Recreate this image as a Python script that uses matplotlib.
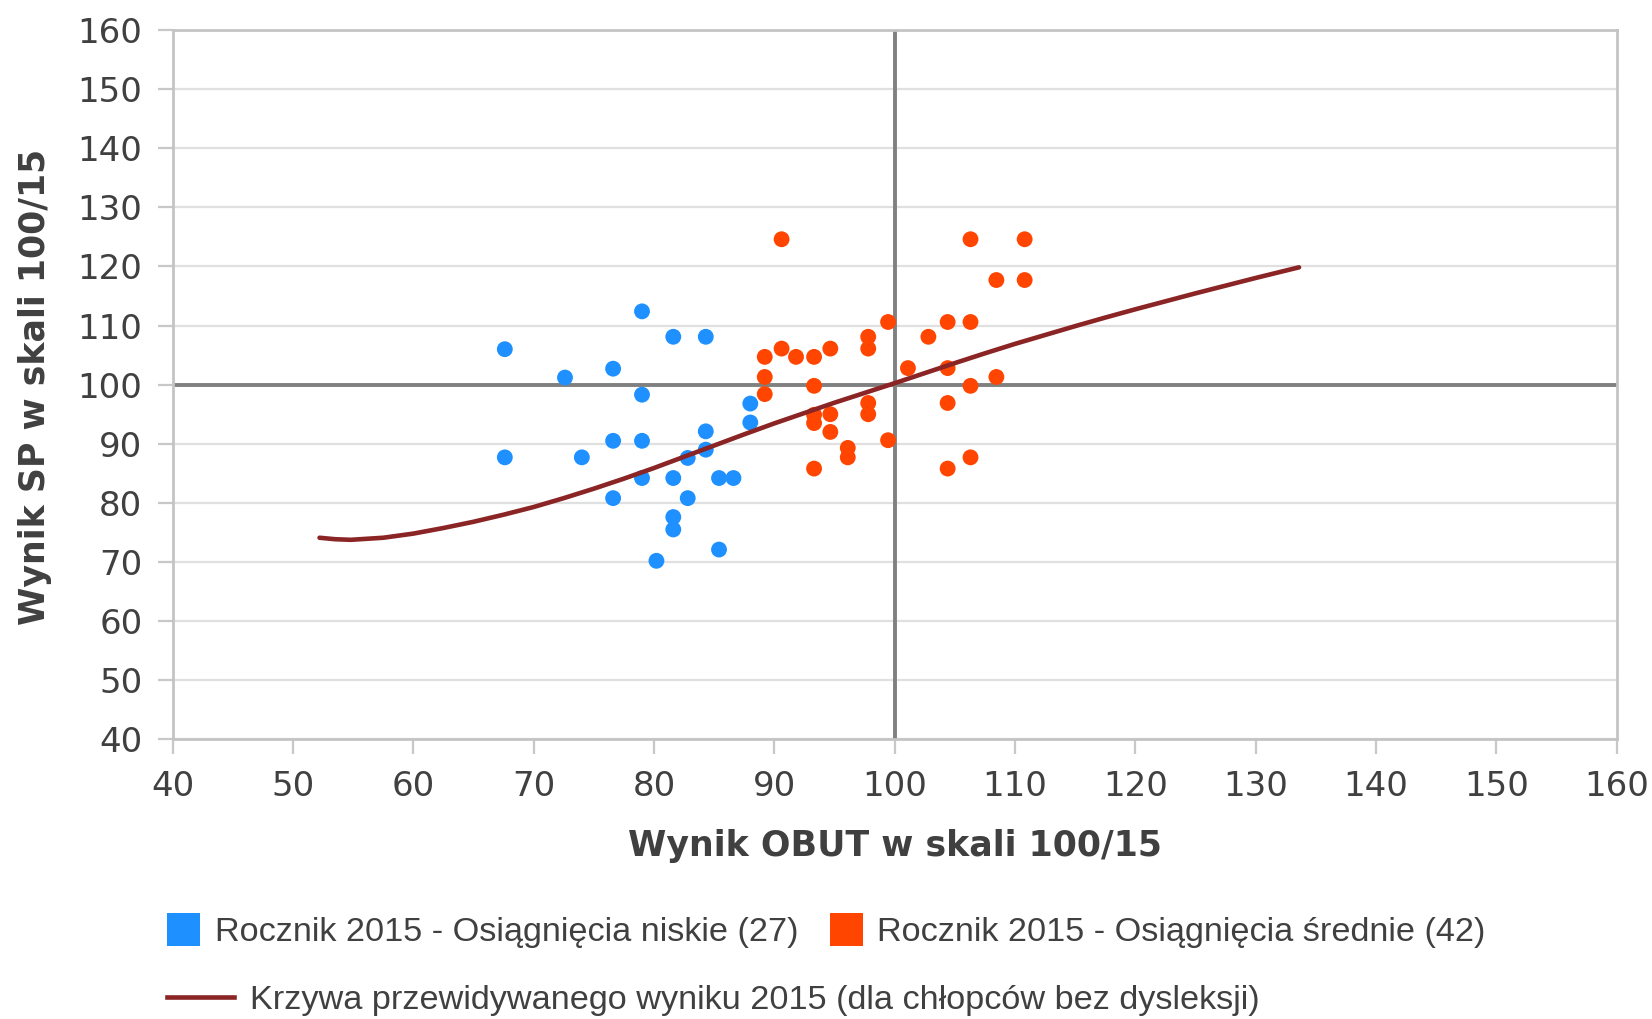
import matplotlib
matplotlib.use("Agg")
import matplotlib.pyplot as plt
from matplotlib.patches import Rectangle
from matplotlib.lines import Line2D

# ---- data ----
low_x = [67.6, 67.6, 72.6, 74.0, 76.6, 76.6, 76.6, 79.0, 79.0, 79.0, 79.0, 80.2, 81.6,
         81.6, 81.6, 81.6, 82.8, 82.8, 84.3, 84.3, 84.3, 85.4, 85.4, 86.6, 88.0, 88.0]
low_y = [106.0, 87.7, 101.2, 87.7, 102.7, 90.5, 80.8, 112.4, 98.3, 90.5, 84.2, 70.2, 108.1,
         84.2, 77.6, 75.5, 87.6, 80.8, 108.1, 92.1, 89.0, 84.2, 72.1, 84.2, 96.8, 93.6]

mid_x = [89.2, 89.2, 89.2, 90.6, 90.6, 91.8, 93.3, 93.3, 93.3, 93.3, 93.3, 94.65, 94.65,
         94.65, 96.1, 96.1, 97.8, 97.8, 97.8, 97.8, 99.45, 99.45, 101.1, 102.8, 104.4,
         104.4, 104.4, 104.4, 106.3, 106.3, 106.3, 106.3, 108.45, 108.45, 110.8, 110.8]
mid_y = [104.7, 101.3, 98.4, 124.6, 106.1, 104.7, 104.7, 99.8, 94.9, 93.5, 85.8, 106.1, 95.0,
         92.0, 89.3, 87.7, 108.1, 106.1, 96.9, 95.0, 110.6, 90.6, 102.8, 108.1, 110.6,
         102.8, 96.9, 85.8, 124.6, 110.6, 99.8, 87.7, 117.7, 101.3, 124.6, 117.7]

curve_x = [52.2, 53.5, 54.8, 57.5, 60.0, 62.5, 65.0, 67.5, 70.0, 72.5, 75.0, 77.5, 80.0,
           82.5, 85.0, 87.5, 90.0, 92.5, 95.0, 97.5, 100.0, 102.5, 105.0, 107.5, 110.0,
           112.5, 115.0, 117.5, 120.0, 122.5, 125.0, 127.5, 130.0, 133.6]
curve_y = [74.1, 73.85, 73.75, 74.1, 74.8, 75.75, 76.8, 78.0, 79.3, 80.8, 82.4, 84.1, 85.9,
           87.8, 89.7, 91.6, 93.45, 95.2, 96.95, 98.6, 100.25, 101.95, 103.65, 105.3, 106.9,
           108.4, 109.9, 111.35, 112.75, 114.1, 115.45, 116.75, 118.05, 119.85]

ticks = list(range(40, 161, 10))
xlabel = "Wynik OBUT w skali 100/15"
ylabel = "Wynik SP w skali 100/15"
leg_low = "Rocznik 2015 - Osiągnięcia niskie (27)"
leg_mid = "Rocznik 2015 - Osiągnięcia średnie (42)"
leg_curve = "Krzywa przewidywanego wyniku 2015 (dla chłopców bez dysleksji)"

BLUE = "#1E90FF"
ORANGE = "#FF4500"
CURVE = "#8B2525"
TXT = "#404040"

W, H = 1652, 1019
fig = plt.figure(figsize=(W / 100, H / 100), dpi=100)
ax = fig.add_axes([172.7 / W, 1 - 739.3 / H, (1616.7 - 172.7) / W, (739.3 - 30) / H])

ax.set_xlim(40, 160)
ax.set_ylim(40, 160)
ax.set_xticks(ticks)
ax.set_yticks(ticks)

ax.yaxis.grid(True, color="#e0e0e0", linewidth=1.6, zorder=0)
ax.xaxis.grid(False)
ax.set_axisbelow(True)

for s in ax.spines.values():
    s.set_color("#c4c4c4")
    s.set_linewidth(2.0)

ax.tick_params(axis="both", which="major", length=10.5, width=1.6, color="#c8c8c8",
               labelsize=24.5, labelcolor=TXT, pad=11.3)
for lbl in ax.get_xticklabels() + ax.get_yticklabels():
    lbl.set_family("DejaVu Sans")

ax.axhline(100, color="#808080", linewidth=2.8, zorder=1)
ax.axvline(100, color="#808080", linewidth=2.8, zorder=1)

ax.scatter(low_x, low_y, s=130, color=BLUE, edgecolors="none", zorder=3)
ax.scatter(mid_x, mid_y, s=130, color=ORANGE, edgecolors="none", zorder=3)
ax.plot(curve_x, curve_y, color=CURVE, linewidth=3.3, solid_capstyle="round",
        solid_joinstyle="round", zorder=4)

ax.set_xlabel(xlabel, fontsize=25, fontweight="bold", color=TXT, family="DejaVu Sans")
ax.set_ylabel(ylabel, fontsize=25, fontweight="bold", color=TXT, family="DejaVu Sans")
ax.xaxis.set_label_coords(0.5, (739.3 - 846) / 709.3)
ax.xaxis.label.set_va("center")
ax.yaxis.set_label_coords((35 - 172.7) / 1444, (739.3 - 387) / 709.3)
ax.yaxis.label.set_va("center")

# ---- legend (manual) ----
def fx(px):
    return px / W

def fy(py):
    return 1 - py / H

sq = 33
fig.add_artist(Rectangle((fx(166.5), fy(946)), sq / W, sq / H, transform=fig.transFigure,
                         facecolor=BLUE, edgecolor="none"))
fig.text(fx(215), fy(932), leg_low, fontsize=24.7, color=TXT, family="Liberation Sans",
         va="center", ha="left")
fig.add_artist(Rectangle((fx(830), fy(946)), sq / W, sq / H, transform=fig.transFigure,
                         facecolor=ORANGE, edgecolor="none"))
fig.text(fx(877.5), fy(932), leg_mid, fontsize=24.7, color=TXT, family="Liberation Sans",
         va="center", ha="left")
fig.add_artist(Line2D([fx(166.5), fx(234)], [fy(997), fy(997)], transform=fig.transFigure,
                      color=CURVE, linewidth=3.3))
fig.text(fx(249.7), fy(1000), leg_curve, fontsize=24.7, color=TXT, family="Liberation Sans",
         va="center", ha="left")

fig.savefig("out.png", dpi=100, facecolor="white")
